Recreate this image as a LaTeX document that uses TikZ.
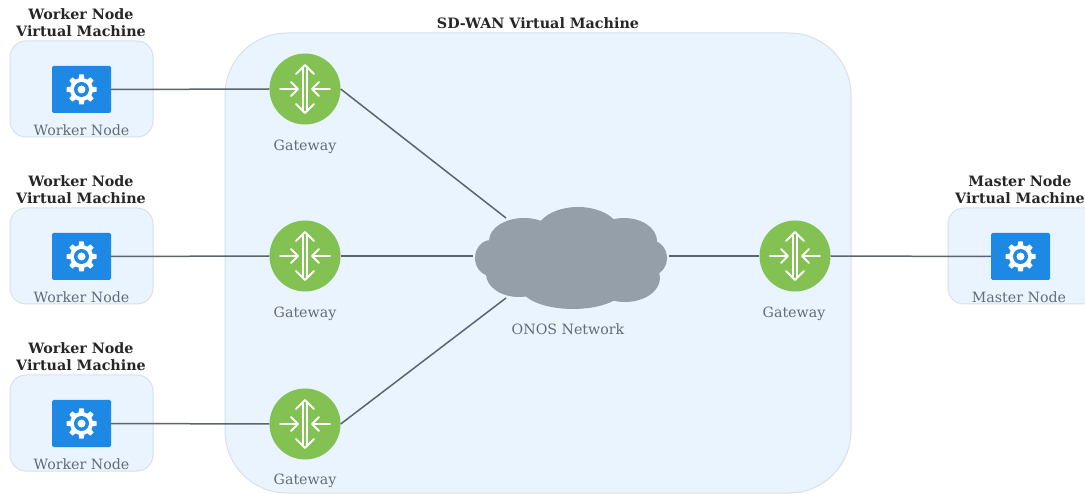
\documentclass[tikz,border=0pt]{standalone}
\usepackage{fontspec}
\setmainfont{DejaVu Serif}
\usetikzlibrary{shapes.geometric}
\definecolor{panelfill}{HTML}{E9F4FE}
\definecolor{panelline}{HTML}{D8E1EA}
\definecolor{iconblue}{HTML}{1E88E5}
\definecolor{gwgreen}{HTML}{82C152}
\definecolor{cloudgrey}{HTML}{959FA9}
\definecolor{linkgrey}{HTML}{5C646C}
\definecolor{labelgrey}{HTML}{626C76}
\tikzset{
  panel/.style={draw=panelline,line width=1pt,fill=panelfill,rounded corners=16pt},
  bigpanel/.style={draw=panelline,line width=1pt,fill=panelfill,rounded corners=62pt},
  gatewaynode/.style={circle,fill=gwgreen,minimum size=71pt,inner sep=0pt},
  workicon/.style={rectangle,fill=iconblue,rounded corners=1.5pt,minimum width=59pt,minimum height=47pt,inner sep=0pt},
  caption/.style={font=\fontsize{14.2}{16}\selectfont,text=labelgrey,inner sep=0pt},
  heading/.style={font=\fontsize{14.3}{17}\selectfont\bfseries,text=black!85,align=center,inner sep=0pt},
  link/.style={draw=linkgrey,line width=1.5pt},
  whiteline/.style={draw=white,line width=1.8pt,line cap=round,line join=round},
  pics/gearmark/.style={code={
    \foreach \a in {0,45,...,315}{
      \fill[white,rotate=\a] (-3.2pt,9pt) -- (-2.2pt,15pt) -- (2.2pt,15pt) -- (3.2pt,9pt) -- cycle;
    }
    \fill[white] (0,0) circle (11.5pt);
    \fill[iconblue] (0,0) circle (7.5pt);
    \fill[white] (0,0) circle (4pt);
  }},
  pics/routermark/.style={code={
    \draw[whiteline] (-1.9pt,-21pt) -- (-1.9pt,21pt);
    \draw[whiteline] (1.9pt,-21pt) -- (1.9pt,21pt);
    \draw[whiteline] (-9pt,-15pt) -- (0,-24pt) -- (9pt,-15pt);
    \draw[whiteline] (-9pt,15pt) -- (0,24pt) -- (9pt,15pt);
    \draw[whiteline] (-25pt,0) -- (-8pt,0);
    \draw[whiteline] (-14pt,-7pt) -- (-7pt,0) -- (-14pt,7pt);
    \draw[whiteline] (25pt,0) -- (8pt,0);
    \draw[whiteline] (14pt,-7pt) -- (7pt,0) -- (14pt,7pt);
  }}
}
\begin{document}
\begin{tikzpicture}[x=1pt,y=-1pt]
\useasboundingbox (0,0) rectangle (1085,494);
\fill[white] (0,0) rectangle (1085,494);

% panels
\path[panel] (10,41) rectangle (153,137);
\path[panel] (10,208) rectangle (153,304);
\path[panel] (10,375) rectangle (153,471);
\path[panel] (948,208) rectangle (1100,304);
\path[bigpanel] (225,33) rectangle (851,493);

% headings
\node[heading] (hw1) at (81,22.5) {Worker Node\\Virtual Machine};
\node[heading] (hw2) at (81,189.5) {Worker Node\\Virtual Machine};
\node[heading] (hw3) at (81,356.5) {Worker Node\\Virtual Machine};
\node[heading] (hm) at (1020,189.5) {Master Node\\Virtual Machine};
\node[heading] (hsd) at (538,23) {SD-WAN Virtual Machine};

% icons
\node[workicon] (w1) at (81.5,89.5) {};
\node[workicon] (w2) at (81.5,256.5) {};
\node[workicon] (w3) at (81.5,423.5) {};
\node[workicon] (m) at (1020.5,256.5) {};
\node[gatewaynode] (g1) at (305,89) {};
\node[gatewaynode] (g2) at (305,256) {};
\node[gatewaynode] (g3) at (305,424) {};
\node[gatewaynode] (g4) at (795,256) {};
\foreach \n in {w1,w2,w3,m}{\path (\n.center) pic {gearmark};}
\foreach \n in {g1,g2,g3,g4}{\path (\n.center) pic {routermark};}

% cloud
\begin{scope}[cloudgrey]
\fill (578,233) ellipse [x radius=42pt,y radius=26pt];
\fill (524,241) ellipse [x radius=35pt,y radius=23pt];
\fill (624,241) ellipse [x radius=33pt,y radius=23pt];
\fill (491,258) ellipse [x radius=16pt,y radius=18pt];
\fill (650,258) ellipse [x radius=17pt,y radius=18pt];
\fill (519,274) ellipse [x radius=33pt,y radius=23pt];
\fill (625,278) ellipse [x radius=35pt,y radius=24pt];
\fill (573,287) ellipse [x radius=52pt,y radius=22pt];
\fill (500,235) rectangle (640,285);
\end{scope}
\coordinate (cnw) at (506,218);
\coordinate (cw) at (473,256);
\coordinate (csw) at (506,298);
\coordinate (ce) at (669,256);

% connectors
\draw[link] (w1.east) -- (g1.west);
\draw[link] (w2.east) -- (g2.west);
\draw[link] (w3.east) -- (g3.west);
\draw[link] (g1.east) -- (cnw);
\draw[link] (g2.east) -- (cw);
\draw[link] (g3.east) -- (csw);
\draw[link] (ce) -- (g4.west);
\draw[link] (g4.east) -- (m.west);

% captions
\node[caption] (lw1) at (81.5,130.5) {Worker Node};
\node[caption] (lw2) at (81.5,297.5) {Worker Node};
\node[caption] (lw3) at (81.5,464.5) {Worker Node};
\node[caption] (lm) at (1019,297.5) {Master Node};
\node[caption] (lg1) at (305,147) {Gateway};
\node[caption] (lg2) at (305,314) {Gateway};
\node[caption] (lg3) at (305,481) {Gateway};
\node[caption] (lg4) at (794,314) {Gateway};
\node[caption] (lc) at (568,329.5) {ONOS Network};
\end{tikzpicture}
\end{document}
